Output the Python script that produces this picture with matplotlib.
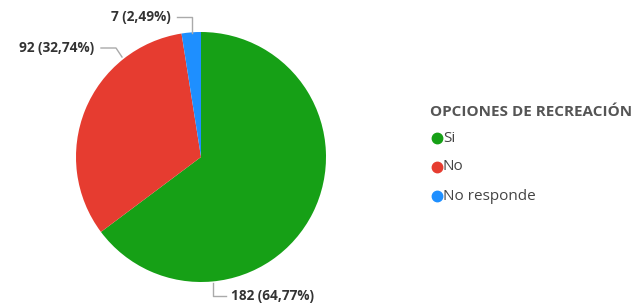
import matplotlib.pyplot as plt
import numpy as np

categories = ["Si", "No", "No responde"]
counts = [182, 92, 7]
percents = ["64,77%", "32,74%", "2,49%"]
colors = ["#16A016", "#E63C30", "#1E8FFF"]

W, H = 635, 307
fig = plt.figure(figsize=(W / 100, H / 100), dpi=100)

# pie axes: center (201,157) px, radius 125 px
cx, cy, R = 201, 157, 125
ax = fig.add_axes([(cx - R) / W, (H - cy - R) / H, 2 * R / W, 2 * R / H])
ax.pie(counts, colors=colors, startangle=90, counterclock=False, radius=1,
       wedgeprops=dict(linewidth=0))
ax.set_xlim(-1, 1)
ax.set_ylim(-1, 1)
ax.set_aspect("auto")

def px(x, y):
    return ((x - cx) / R, (cy - y) / R)

# leader lines + labels (pixel layout)
lab_font = dict(fontsize=9.8, fontweight="bold", color="#333333", family="Open Sans")
line_kw = dict(color="#AAAAAA", lw=1, clip_on=False)
leaders = [
    ([(213, 283), (213, 296), (226, 296)], (231, 296), "left"),
    ([(122, 57), (116, 48), (101, 48)], (94, 48), "right"),
    ([(192, 33), (192, 17), (177, 17)], (171, 17), "right"),
]
for i, (pts, tpos, ha) in enumerate(leaders):
    xs, ys = zip(*[px(*p) for p in pts])
    ax.plot(xs, ys, **line_kw)
    tx, ty = px(*tpos)
    ax.text(tx, ty, f"{counts[i]} ({percents[i]})", ha=ha, va="center", **lab_font)

# legend drawn manually
fig.text(430 / W, 1 - 112 / H, "OPCIONES DE RECREACIÓN", fontsize=11, fontweight="bold",
         color="#555555", family="Open Sans", va="center", ha="left")
leg_y = [138, 167, 196]
for cat, col, y in zip(categories, colors, leg_y):
    fig.add_artist(plt.Line2D([437 / W], [1 - y / H], marker="o", markersize=7.5,
                              color=col, linestyle="none"))
    fig.text(443 / W, 1 - y / H, cat, fontsize=11, color="#444444", family="Open Sans",
             va="center", ha="left")

fig.savefig("out.png", dpi=100)
